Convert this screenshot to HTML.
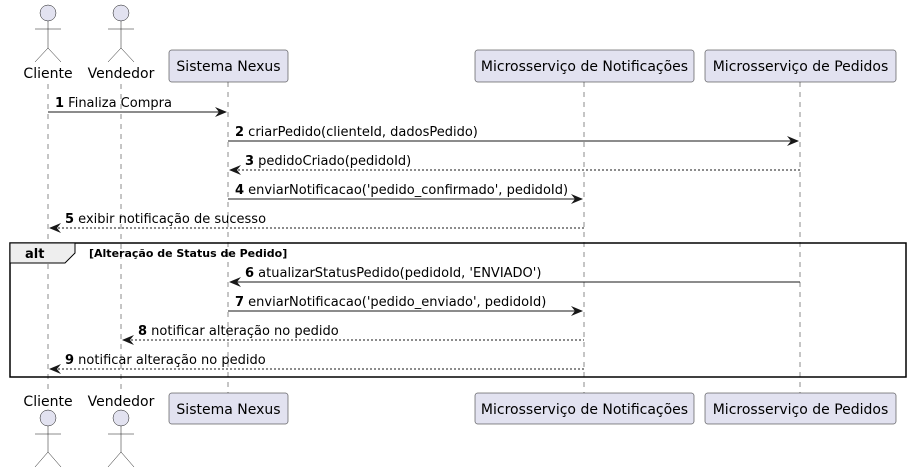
<!DOCTYPE html>
<html><head><meta charset="utf-8"><style>
html,body{margin:0;padding:0;background:#fff;}
svg{display:block;font-family:"DejaVu Sans","Liberation Sans",sans-serif;}
</style></head><body>
<svg width="911" height="474" viewBox="0 0 911 474" xmlns="http://www.w3.org/2000/svg">
<g stroke="#181818" stroke-width="0.5" stroke-dasharray="5,5">
<line x1="48" y1="84" x2="48" y2="392"/>
<line x1="121" y1="84" x2="121" y2="392"/>
<line x1="228" y1="82" x2="228" y2="393"/>
<line x1="584" y1="82" x2="584" y2="393"/>
<line x1="800" y1="82" x2="800" y2="393"/>
</g>
<g fill="#E2E2F0" stroke="#181818" stroke-width="0.5">
<circle cx="48" cy="13" r="8"/><circle cx="121" cy="13" r="8"/>
<circle cx="48" cy="418" r="8"/><circle cx="121" cy="418" r="8"/>
</g>
<g stroke="#181818" stroke-width="0.5" fill="none">
<path d="M48 21V48M35 29H61M48 48L35 62M48 48L61 62"/>
<path d="M121 21V48M108 29H134M121 48L108 62M121 48L134 62"/>
<path d="M48 426V452M35 434H61M48 452L35 467M48 452L61 467"/>
<path d="M121 426V452M108 434H134M121 452L108 467M121 452L134 467"/>
</g>
<g font-size="14" fill="#000" text-anchor="middle">
<text x="48" y="78">Cliente</text><text x="121" y="78">Vendedor</text>
<text x="48" y="406">Cliente</text><text x="121" y="406">Vendedor</text>
</g>
<g fill="#E2E2F0" stroke="#181818" stroke-width="0.5">
<rect x="169" y="50" width="119" height="32" rx="2.5"/>
<rect x="475" y="50" width="219" height="32" rx="2.5"/>
<rect x="705" y="50" width="191" height="32" rx="2.5"/>
<rect x="169" y="393" width="119" height="31" rx="2.5"/>
<rect x="475" y="393" width="219" height="31" rx="2.5"/>
<rect x="705" y="393" width="191" height="31" rx="2.5"/>
</g>
<g font-size="14" fill="#000" text-anchor="middle">
<text x="228.5" y="71">Sistema Nexus</text>
<text x="584.5" y="71">Microsserviço de Notificações</text>
<text x="800.5" y="71">Microsserviço de Pedidos</text>
<text x="228.5" y="414">Sistema Nexus</text>
<text x="584.5" y="414">Microsserviço de Notificações</text>
<text x="800.5" y="414">Microsserviço de Pedidos</text>
</g>
<rect x="10" y="243" width="896" height="134" fill="none" stroke="#000" stroke-width="1.5"/>
<path d="M10 243H75V253L65 263H10Z" fill="#EEEEEE" stroke="#000" stroke-width="1"/>
<text x="25" y="258" font-size="13" font-weight="bold">alt</text>
<text x="89" y="257" font-size="11" font-weight="bold">[Alteração de Status de Pedido]</text>
<g stroke="#181818" stroke-width="1" fill="none">
<line x1="48" y1="112" x2="226" y2="112"/>
<line x1="228" y1="141" x2="798" y2="141"/>
<line x1="230" y1="170" x2="800" y2="170" stroke-dasharray="2,2"/>
<line x1="228" y1="199" x2="582" y2="199"/>
<line x1="50" y1="228" x2="584" y2="228" stroke-dasharray="2,2"/>
<line x1="230" y1="282" x2="800" y2="282"/>
<line x1="228" y1="311" x2="582" y2="311"/>
<line x1="123" y1="340" x2="584" y2="340" stroke-dasharray="2,2"/>
<line x1="50" y1="369" x2="584" y2="369" stroke-dasharray="2,2"/>
</g>
<g fill="#181818">
<polygon points="215,107 227,112 215,117 219,112"/>
<polygon points="787,136 799,141 787,146 791,141"/>
<polygon points="241,165 229,170 241,175 237,170"/>
<polygon points="571,194 583,199 571,204 575,199"/>
<polygon points="61,223 49,228 61,233 57,228"/>
<polygon points="241,277 229,282 241,287 237,282"/>
<polygon points="571,306 583,311 571,316 575,311"/>
<polygon points="134,335 122,340 134,345 130,340"/>
<polygon points="61,364 49,369 61,374 57,369"/>
</g>
<g font-size="13" fill="#000">
<text x="55" y="107"><tspan font-weight="bold">1</tspan> Finaliza Compra</text>
<text x="235" y="136"><tspan font-weight="bold">2</tspan> criarPedido(clienteId, dadosPedido)</text>
<text x="245" y="165"><tspan font-weight="bold">3</tspan> pedidoCriado(pedidoId)</text>
<text x="235" y="194"><tspan font-weight="bold">4</tspan> enviarNotificacao('pedido_confirmado', pedidoId)</text>
<text x="65" y="223"><tspan font-weight="bold">5</tspan> exibir notificação de sucesso</text>
<text x="245" y="277"><tspan font-weight="bold">6</tspan> atualizarStatusPedido(pedidoId, 'ENVIADO')</text>
<text x="235" y="306"><tspan font-weight="bold">7</tspan> enviarNotificacao('pedido_enviado', pedidoId)</text>
<text x="138" y="335"><tspan font-weight="bold">8</tspan> notificar alteração no pedido</text>
<text x="65" y="364"><tspan font-weight="bold">9</tspan> notificar alteração no pedido</text>
</g>
</svg>
</body></html>
